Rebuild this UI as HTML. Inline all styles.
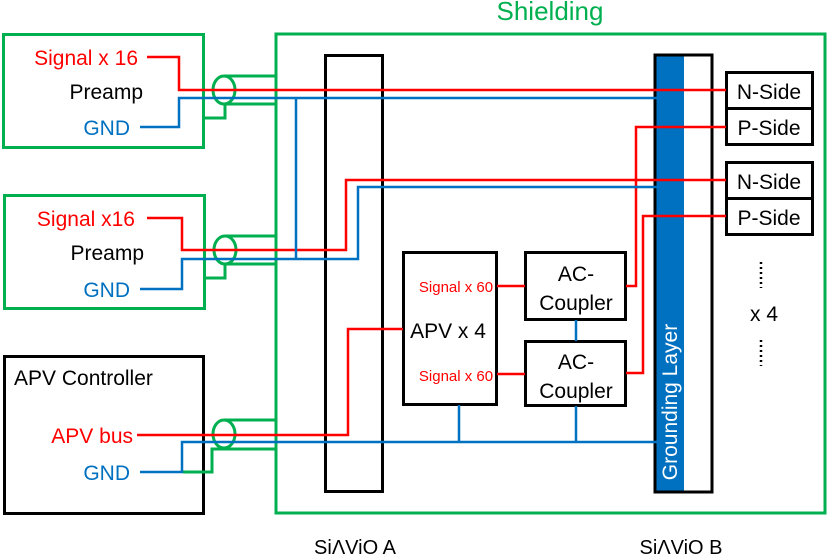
<!DOCTYPE html>
<html><head><meta charset="utf-8"><style>
body{margin:0;background:#fff;}
svg{display:block;font-family:"Liberation Sans","DejaVu Sans",sans-serif;}
</style></head><body>
<svg width="830" height="557" viewBox="0 0 830 557" xmlns="http://www.w3.org/2000/svg">
<g fill="none">
<rect x="276" y="34" width="549" height="479" stroke="#00b050" stroke-width="3"/>
<rect x="3.5" y="34.5" width="200" height="113" stroke="#00b050" stroke-width="3"/>
<rect x="4.5" y="195.5" width="200" height="113" stroke="#00b050" stroke-width="3"/>
<rect x="4.5" y="356.5" width="199" height="157" stroke="#000" stroke-width="3"/>
<rect x="325.5" y="55.5" width="57" height="436" stroke="#000" stroke-width="3"/>
<rect x="655" y="55" width="29" height="436" fill="#0070c0" stroke="none"/>
<rect x="655" y="55" width="57" height="437" stroke="#000" stroke-width="3"/>
<rect x="403.5" y="252.5" width="93" height="152" stroke="#000" stroke-width="3"/>
<rect x="525.5" y="252.5" width="100" height="67" stroke="#000" stroke-width="3"/>
<rect x="525.5" y="341.5" width="100" height="64" stroke="#000" stroke-width="3"/>
<rect x="726.5" y="72.5" width="86" height="72" stroke="#000" stroke-width="3"/>
<line x1="726" y1="108.5" x2="812" y2="108.5" stroke="#000" stroke-width="3"/>
<rect x="726.5" y="162.5" width="86" height="72" stroke="#000" stroke-width="3"/>
<line x1="726" y1="198.5" x2="812" y2="198.5" stroke="#000" stroke-width="3"/>
<g stroke="#00b050" stroke-width="3">
<ellipse cx="224" cy="90" rx="11" ry="14"/>
<polyline points="224,76 275,76"/><polyline points="224,104 275,104"/>
<polyline points="205,118 225,118 225,104"/>
<ellipse cx="225" cy="250" rx="11" ry="14"/>
<polyline points="225,236 275,236"/><polyline points="225,264 275,264"/>
<polyline points="205,278 225,278 225,264"/>
<ellipse cx="224" cy="434" rx="11" ry="14"/>
<polyline points="224,420 275,420"/><polyline points="224,449 275,449"/>
<polyline points="183,472 212,472 212,449 224,449"/>
</g>
<g stroke="#ff0000" stroke-width="2.5">
<polyline points="147,57 179,57 179,90 726,90"/>
<polyline points="147,218 182,218 182,250 346,250 346,180 726,180"/>
<polyline points="137,435 348,435 348,329 403,329"/>
<polyline points="497,286 525,286"/><polyline points="497,374 525,374"/>
<polyline points="626,286 636,286 636,127 726,127"/>
<polyline points="626,373 643,373 643,216 726,216"/>
</g>
<g stroke="#0070c0" stroke-width="2.5">
<polyline points="140,127 179,127 179,98 657,98"/>
<polyline points="296,98 296,259"/>
<polyline points="140,289 182,289 182,259 358,259 358,187 657,187"/>
<polyline points="140,472 182,472 182,442 657,442"/>
<polyline points="459,405 459,442"/><polyline points="576,406 576,442"/>
<polyline points="576,320 576,341"/>
</g>
<g stroke="#000" stroke-width="2.5" stroke-dasharray="2,3">
<line x1="761" y1="262" x2="761" y2="288"/><line x1="761" y1="340" x2="761" y2="366"/>
</g>
</g>
<g font-size="21">
<text x="550" y="20" fill="#00b050" font-size="26" text-anchor="middle">Shielding</text>
<text x="138" y="65" fill="#ff0000" text-anchor="end">Signal x 16</text>
<text x="143" y="99" fill="#000" text-anchor="end">Preamp</text>
<text x="130" y="135" fill="#0070c0" text-anchor="end">GND</text>
<text x="135" y="226" fill="#ff0000" text-anchor="end">Signal x16</text>
<text x="144" y="260" fill="#000" text-anchor="end">Preamp</text>
<text x="130" y="297" fill="#0070c0" text-anchor="end">GND</text>
<text x="14" y="385" fill="#000">APV Controller</text>
<text x="133" y="443" fill="#ff0000" text-anchor="end">APV bus</text>
<text x="130" y="480" fill="#0070c0" text-anchor="end">GND</text>
<text x="448" y="338" fill="#000" text-anchor="middle">APV x 4</text>
<text x="456" y="292" fill="#ff0000" font-size="15" text-anchor="middle">Signal x 60</text>
<text x="456" y="381" fill="#ff0000" font-size="15" text-anchor="middle">Signal x 60</text>
<text x="576" y="281" fill="#000" text-anchor="middle">AC-</text>
<text x="576" y="310" fill="#000" text-anchor="middle">Coupler</text>
<text x="576" y="369" fill="#000" text-anchor="middle">AC-</text>
<text x="576" y="398" fill="#000" text-anchor="middle">Coupler</text>
<text x="769" y="99" fill="#000" text-anchor="middle">N-Side</text>
<text x="769" y="135" fill="#000" text-anchor="middle">P-Side</text>
<text x="769" y="189" fill="#000" text-anchor="middle">N-Side</text>
<text x="769" y="225" fill="#000" text-anchor="middle">P-Side</text>
<text x="764" y="321" fill="#000" text-anchor="middle">x 4</text>
<text x="677" y="402" fill="#fff" text-anchor="middle" transform="rotate(-90 677 402)">Grounding Layer</text>
<text x="355" y="554" fill="#000" text-anchor="middle" font-size="20">SiΛViO A</text>
<text x="681" y="554" fill="#000" text-anchor="middle" font-size="20">SiΛViO B</text>
</g>
</svg>
</body></html>
